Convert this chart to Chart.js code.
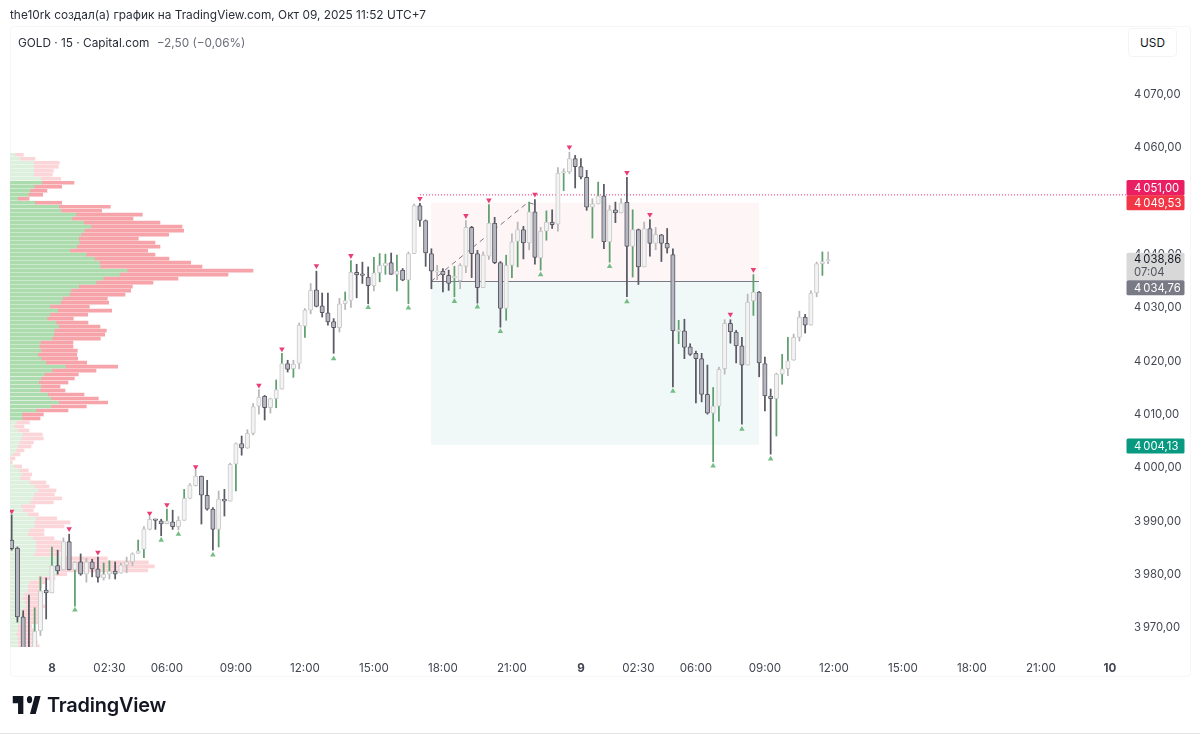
<!DOCTYPE html>
<html lang="ru"><head><meta charset="utf-8"><title>GOLD</title>
<script src="https://cdn.jsdelivr.net/npm/chart.js@4"></script>
<style>
html,body{margin:0;padding:0;background:#fff;width:1200px;height:734px;overflow:hidden}
body{font-family:Inter,"Noto Sans",sans-serif;position:relative}
canvas{position:absolute;left:0;top:0}
.abs{position:absolute;white-space:nowrap}
#credit{left:10px;top:8px;font-size:11.85px;color:#2a2e39;line-height:15px}
#frame{left:10px;top:26px;width:1179px;height:649px;border:1px solid #f6f6f8;border-radius:4px;box-sizing:content-box}
#sym{left:18px;top:36px;font-size:11.8px;color:#2a2e39;line-height:15px}
#sym span{color:#6a6d78;margin-left:4px}
#usd{left:1128px;top:28px;width:47px;height:27px;background:#fff;border:1px solid #f4f4f6;border-radius:4px;font-size:11.8px;line-height:29px;text-align:center;color:#131722}
#logo{left:11px;top:696px;width:30px;height:18px}
#word{left:47px;top:692px;font-size:19.9px;font-weight:600;color:#131722;line-height:26px;letter-spacing:-0.2px}
#foot{left:0;top:733px;width:1200px;height:1px;background:#e4e4e4}
</style></head><body>
<div id="frame" class="abs"></div>
<canvas id="c" width="1200" height="734"></canvas>
<div id="credit" class="abs">the10rk создал(а) график на TradingView.com, Окт 09, 2025 11:52 UTC+7</div>
<div id="sym" class="abs">GOLD · 15 · Capital.com <span>−2,50 (−0,06%)</span></div>
<div id="usd" class="abs">USD</div>
<svg id="logo" class="abs" viewBox="0 6 34 15" preserveAspectRatio="none"><path fill="#131722" d="M14 6H2v6h6v9h6V6zm14 15h-6.5L27 6h6.5L28 21zM21 12a3 3 0 1 0 0-6 3 3 0 0 0 0 6z"/></svg>
<div id="word" class="abs">TradingView</div>
<div id="foot" class="abs"></div>
<script>
const opens=[3986.3,3984.8,3971.9,3964,3964,3969.25,3976.9,3976.4,3981.5,3980.7,
3986.0,3980.7,3982.2,3979.9,3982.2,3980.9,3979.2,3979.9,3980.5,3980.1,
3981.6,3982.2,3983.8,3984.6,3988.3,3990.2,3989.9,3989.35,3989.7,3988.8,
3990.0,3994.1,3996.5,3998.3,3994.7,3992.1,3988.3,3993.95,3993.6,4000.5,
4004.4,4003.5,4006.3,4011.4,4013.3,4011.1,4012.8,4014.6,4019.4,4018.4,
4019.4,4026.4,4029.4,4033.2,4030.2,4028.9,4027.25,4026.1,4030.6,4031.2,
4036.5,4036.05,4035.6,4034.0,4036.4,4037.7,4038.3,4036.1,4036.9,4035.0,
4040.0,4049.0,4046.2,4040.0,4036.5,4036.7,4035.9,4035.45,4034.9,4037.6,
4044.9,4040.0,4033.6,4039.5,4045.7,4038.3,4029.7,4037.8,4042.3,4044.5,
4042.0,4047.8,4039.2,4044.2,4045.9,4045.5,4055.1,4055.3,4057.8,4056.3,
4054.3,4048.7,4049.3,4050.8,4042.2,4048.2,4047.6,4049.65,4041.35,4044.5,
4037.5,4044.7,4041.9,4043.5,4041.9,4039.8,4025.4,4025.5,4022.5,4021.3,
4020.3,4013.6,4010.1,4011.4,4018.4,4026.9,4025.3,4022.7,4019.1,4031.1,
4032.8,4019.4,4013.3,4012.8,4017.4,4018.4,4020.0,4024.3,4028.1,4026.6,
4032.6,4038.1,4038.6];
const closes=[3984.7,3971.9,3963.8,3962.5,3969.2,3976.8,3976.4,3981.5,3980.5,3986.0,
3980.7,3982.1,3979.9,3982.2,3980.9,3979.3,3979.9,3980.5,3979.9,3981.6,
3982.2,3983.7,3984.3,3988.4,3990.2,3990.0,3989.3,3989.9,3988.8,3990.0,
3994.1,3996.6,3998.3,3994.7,3992.1,3988.3,3994.0,3993.6,4000.5,4004.4,
4003.5,4006.3,4011.3,4013.1,4011.1,4012.8,4014.5,4019.4,4018.3,4019.3,
4026.6,4029.4,4033.1,4030.1,4028.9,4027.2,4026.1,4030.6,4031.2,4036.5,
4036.0,4035.9,4034.0,4036.4,4037.8,4038.2,4036.1,4036.7,4035.0,4040.0,
4049.0,4046.2,4040.1,4036.7,4036.7,4036.0,4034.4,4035.6,4037.8,4044.9,
4040.0,4033.6,4039.7,4045.7,4038.3,4029.7,4037.8,4042.2,4044.5,4042.0,
4047.8,4039.3,4044.2,4045.9,4045.4,4055.1,4055.3,4057.8,4056.3,4054.3,
4048.7,4049.3,4050.8,4042.2,4048.2,4047.6,4049.5,4041.35,4044.5,4037.5,
4044.7,4041.9,4043.6,4041.9,4041.0,4025.5,4025.6,4022.4,4021.1,4020.3,
4013.6,4010.1,4011.4,4018.3,4026.9,4025.3,4022.7,4019.1,4030.9,4032.8,
4019.5,4013.3,4012.8,4017.4,4018.4,4019.9,4024.3,4028.1,4026.6,4032.6,
4038.1,4038.5,4038.86];
const highs=[3991.0,3985.0,3973.05,3976.0,3973.6,3979.4,3979.2,3985.0,3984.4,3986.7,
3987.4,3982.2,3983.7,3982.9,3982.7,3983.1,3982.0,3982.4,3982.2,3982.0,
3983.1,3983.9,3986.3,3988.8,3990.7,3990.2,3990.2,3992.1,3991.9,3990.7,
3995.8,3996.9,3999.4,3998.3,3997.5,3992.4,3995.5,3995.8,4000.7,4004.5,
4005.8,4007.0,4011.9,4014.5,4013.4,4012.9,4016.3,4021.3,4020.0,4020.0,
4027.0,4029.7,4034.4,4036.7,4032.6,4032.6,4027.8,4031.6,4032.8,4038.7,
4038.0,4038.4,4037.5,4039.3,4040.0,4039.9,4040.1,4039.7,4037.2,4040.3,
4049.3,4049.4,4046.3,4040.9,4037.8,4037.2,4036.9,4037.6,4038.1,4046.2,
4045.1,4040.6,4040.3,4049.2,4046.8,4038.5,4039.7,4043.7,4045.9,4045.1,
4049.65,4050.1,4044.9,4048.0,4048.2,4056.1,4055.9,4059.0,4058.4,4057.8,
4055.6,4050.3,4053.4,4053.0,4049.0,4049.65,4050.3,4054.3,4048.2,4044.6,
4045.9,4046.35,4044.9,4043.6,4044.7,4040.9,4027.5,4027.7,4023.1,4021.7,
4021.3,4019.1,4014.9,4018.7,4027.6,4027.6,4025.6,4024.3,4032.4,4036.05,
4032.9,4020.6,4014.6,4017.6,4021.1,4024.3,4024.9,4029.2,4028.6,4033.0,
4038.4,4040.3,4040.3];
const lows=[3984.4,3970.9,3962.9,3961,3963,3968.4,3971.5,3976.4,3979.9,3980.7,
3980.7,3973.9,3979.7,3978.4,3979.4,3978.4,3978.8,3979.0,3979.0,3980.1,
3980.2,3981.5,3983.8,3983.0,3988.2,3988.3,3987.1,3989.35,3988.3,3988.2,
3990.0,3994.1,3996.4,3989.3,3991.9,3984.4,3985.0,3990.8,3993.6,3995.5,
4002.2,4003.5,4006.0,4009.9,4008.8,4010.1,4011.1,4014.6,4017.8,4016.8,
4018.4,4024.3,4028.7,4030.0,4028.1,4026.6,4021.3,4025.3,4029.5,4029.9,
4031.7,4034.4,4030.6,4033.0,4034.7,4036.1,4036.1,4033.0,4034.9,4030.6,
4040.0,4045.1,4037.6,4033.4,4035.1,4032.8,4033.1,4031.9,4033.4,4036.4,
4035.5,4030.7,4033.6,4038.9,4038.1,4026.2,4027.5,4035.5,4037.5,4039.0,
4040.7,4038.0,4036.9,4042.5,4044.7,4044.2,4051.8,4055.0,4052.3,4054.0,
4048.1,4042.9,4049.3,4040.9,4038.4,4045.8,4047.6,4031.9,4035.6,4034.2,
4037.5,4039.5,4040.7,4038.5,4040.1,4015.0,4023.1,4020.3,4020.9,4012.0,
4012.2,4009.9,4001.0,4008.6,4017.4,4023.2,4019.5,4008.0,4019.1,4028.4,
4016.9,4010.5,4002.4,4005.8,4015.5,4017.1,4020.0,4023.6,4025.1,4026.6,
4031.9,4035.9,4038.1];

const sellMarkBars=[0,10,15,24,27,32,43,47,53,59,71,79,83,91,97,107,111,125,129];
const sellMarkPrices=[3991.7,3988.4,3984.0,3991.3,3992.9,4000.0,4015.3,4022.1,4037.7,4039.6,4050.3,4047.1,4050.0,4051.1,4059.95,4055.2,4047.3,4028.6,4037.0];
const buyMarkBars=[11,26,29,35,56,62,69,77,81,85,92,104,107,115,122,127,132];
const buyMarkPrices=[3973.2,3986.3,3987.4,3983.5,4020.3,4029.9,4029.8,4031.05,4030.0,4025.4,4036.05,4037.6,4031.0,4014.2,4000.2,4007.1,4001.5];

const profilePrices=[4058.52,4057.77,4057.02,4056.27,4055.52,4054.78,4054.03,4053.28,4052.53,4051.78,
4051.03,4050.28,4049.53,4048.78,4048.03,4047.29,4046.54,4045.79,4045.04,4044.29,
4043.54,4042.79,4042.04,4041.29,4040.54,4039.80,4039.05,4038.30,4037.55,4036.80,
4036.05,4035.30,4034.55,4033.80,4033.05,4032.31,4031.56,4030.81,4030.06,4029.31,
4028.56,4027.81,4027.06,4026.31,4025.56,4024.82,4024.07,4023.32,4022.57,4021.82,
4021.07,4020.32,4019.57,4018.82,4018.07,4017.33,4016.58,4015.83,4015.08,4014.33,
4013.58,4012.83,4012.08,4011.33,4010.58,4009.84,4009.09,4008.34,4007.59,4006.84,
4006.09,4005.34,4004.59,4003.84,4003.09,4002.35,4001.60,4000.85,4000.10,3999.35,
3998.60,3997.85,3997.10,3996.35,3995.60,3994.86,3994.11,3993.36,3992.61,3991.86,
3991.11,3990.36,3989.61,3988.86,3988.11,3987.37,3986.62,3985.87,3985.12,3984.37,
3983.62,3982.87,3982.12,3981.37,3980.62,3979.88,3979.13,3978.38,3977.63,3976.88,
3976.13,3975.38,3974.63,3973.88,3973.13,3972.39,3971.64,3970.89,3970.14,3969.39,
3968.64,3967.89,3967.14,3966.39];
const profileBuy=[17,32,73,73,73,73,95,98,75,62,57,25,77,148,155,200,188,223,245,225,
215,208,210,202,182,230,255,270,273,353,330,282,260,208,185,180,160,153,122,145,
122,113,140,148,135,133,128,93,90,95,85,95,110,168,128,105,95,88,95,92,
115,125,148,125,80,38,38,20,15,25,40,35,30,25,20,10,2,3,15,30,
38,32,60,75,85,75,70,62,35,40,55,80,75,75,60,55,70,80,80,80,
75,160,160,150,150,140,85,60,55,55,45,40,45,50,40,35,35,40,25,25,
20,25,25,25];
const profileTotal=[40,75,148,145,130,127,152,192,155,111,98,57,155,301,275,397,369,450,516,521,
476,385,435,450,413,435,477,542,576,729,654,504,429,367,362,345,292,296,238,305,
233,190,234,270,289,284,271,189,189,202,200,203,230,323,258,205,193,174,150,165,
222,265,293,229,174,100,90,58,42,57,97,100,70,63,42,30,15,7,35,55,
65,60,108,117,138,133,155,130,75,70,85,140,180,162,102,102,132,153,155,160,
150,292,415,433,413,170,135,105,95,90,85,90,90,105,95,95,98,95,65,70,
80,80,82,88];
const valueAreaHigh=4053.6, valueAreaLow=4009.0;

const yTicks=[3970,3980,3990,4000,4010,4020,4030,4040,4050,4060,4070];
const xTickBars=[7,17,27,39,51,63,75,87,99,109,119,131,143,155,167,179,191];
const xTickLabels=['8','02:30','06:00','09:00','12:00','15:00','18:00','21:00','9','02:30','06:00','09:00','12:00','15:00','18:00','21:00','10'];
const dayLabels=['8','9','10'];

const tradeStartBar=72.93, tradeEndBar=129.97;
const entryPrice=4034.76, targetPrice=4049.53, stopPrice=4004.13, levelPrice=4051.00, lastPrice=4038.86;
const levelStartBar=71, levelEndBar=194;
const pathBars=[72.93,89.8,91];
const pathPrices=[4034.76,4049.6,4049.2];

const fmt=v=>{const s=Number(v).toFixed(2).replace('.',',');return s.slice(0,1)+'\u2009'+s.slice(1);};
const bars=opens.map((_,i)=>i);
const isUp=i=>closes[i]>=opens[i];
const shortWick=1.5;
const wickColor=(i,len)=>isUp(i)?(len>shortWick?'#5f9f70':'#b8b8b8'):'#5a5a64';
const font='Inter, "Noto Sans", sans-serif';

const priceTags=[
 {value:levelPrice,text:fmt(levelPrice),bg:'#e91e63',fg:'#fff',top:-15,h:15.5},
 {value:targetPrice,text:fmt(targetPrice),bg:'#f23645',fg:'#fff',top:-7.5,h:15},
 {value:lastPrice,text:fmt(lastPrice),sub:'07:04',bg:'#d8d8d9',fg:'#131722',subFg:'#50535e',top:-7,h:27.5},
 {value:entryPrice,text:fmt(entryPrice),bg:'#787b86',fg:'#fff',top:-1.2,h:15},
 {value:stopPrice,text:fmt(stopPrice),bg:'#089981',fg:'#fff',top:-6.5,h:15}
];
const priceTagPlugin={id:'priceTags',afterDraw(chart){
 const c=chart.ctx,s=chart.scales.y,left=1126.5,w=58;
 c.save();c.textBaseline='middle';c.textAlign='left';c.font='11.3px '+font;
 priceTags.forEach(t=>{
  const y=s.getPixelForValue(t.value)+t.top;
  c.fillStyle=t.bg;c.beginPath();c.roundRect(left,y,w,t.h,1.5);c.fill();
  c.fillStyle=t.fg;c.fillText(t.text,left+7.5,y+(t.sub?7.2:t.h/2+0.8));
  if(t.sub){c.fillStyle=t.subFg;c.fillText(t.sub,left+7.5,y+19.5);}
 });
 c.restore();
}};

new Chart(document.getElementById('c'),{
 type:'bar',
 plugins:[priceTagPlugin],
 data:{datasets:[
  {type:'line',order:100,data:[{x:tradeStartBar,y:targetPrice},{x:tradeEndBar,y:targetPrice}],fill:{value:entryPrice},backgroundColor:'rgba(242,54,69,0.05)',borderWidth:0,pointRadius:0},
  {type:'line',order:99,data:[{x:tradeStartBar,y:entryPrice},{x:tradeEndBar,y:entryPrice}],fill:{value:stopPrice},backgroundColor:'rgba(8,153,129,0.055)',borderWidth:0,pointRadius:0},
  {indexAxis:'y',xAxisID:'xv',yAxisID:'y',order:90,grouped:false,barThickness:3,
   data:profilePrices.map((p,i)=>({y:p,x:[0,profileBuy[i]]})),
   backgroundColor:c=>{const p=profilePrices[c.dataIndex];return (p<=valueAreaHigh&&p>=valueAreaLow)?'#acdbae':'#dcf0dd';}},
  {indexAxis:'y',xAxisID:'xv',yAxisID:'y',order:89,grouped:false,barThickness:3,
   data:profilePrices.map((p,i)=>({y:p,x:[profileBuy[i],profileTotal[i]]})),
   backgroundColor:c=>{const p=profilePrices[c.dataIndex];return (p<=valueAreaHigh&&p>=valueAreaLow)?'#f7a3aa':'#fcd5d9';}},
  {type:'line',order:40,data:[{x:levelStartBar,y:levelPrice},{x:levelEndBar,y:levelPrice}],borderColor:'#e91e63',borderWidth:1,borderDash:[1,2],pointRadius:0},
  {type:'line',order:39,data:[{x:tradeStartBar,y:entryPrice},{x:tradeEndBar,y:entryPrice}],borderColor:'#787b86',borderWidth:1.2,pointRadius:0},
  {type:'line',order:38,data:pathBars.map((b,i)=>({x:b,y:pathPrices[i]})),borderColor:'#787b86',borderWidth:1,borderDash:[5,4],pointRadius:0},
  {order:21,grouped:false,barThickness:1.1,data:bars.map(i=>({x:i,y:[Math.max(opens[i],closes[i]),highs[i]]})),
   backgroundColor:c=>{const i=c.dataIndex;return wickColor(i,highs[i]-Math.max(opens[i],closes[i]));}},
  {order:20,grouped:false,barThickness:1.1,data:bars.map(i=>({x:i,y:[lows[i],Math.min(opens[i],closes[i])]})),
   backgroundColor:c=>{const i=c.dataIndex;return wickColor(i,Math.min(opens[i],closes[i])-lows[i]);}},
  {order:10,grouped:false,barThickness:4.4,borderWidth:1,borderSkipped:false,borderRadius:1,minBarLength:1.5,
   data:bars.map(i=>({x:i,y:[opens[i],closes[i]]})),
   backgroundColor:c=>isUp(c.dataIndex)?'#f3f3f3':'#b6b7c1',
   borderColor:c=>isUp(c.dataIndex)?'#c8c8c8':'#55555f'},
  {type:'line',order:5,showLine:false,data:sellMarkBars.map((b,i)=>({x:b,y:sellMarkPrices[i]})),pointStyle:'triangle',rotation:180,pointRadius:3.2,pointBorderWidth:0,pointBackgroundColor:'#e83e75'},
  {type:'line',order:4,showLine:false,data:buyMarkBars.map((b,i)=>({x:b,y:buyMarkPrices[i]})),pointStyle:'triangle',pointRadius:3.2,pointBorderWidth:0,pointBackgroundColor:'#74bd84'}
 ]},
 options:{
  responsive:false,animation:false,devicePixelRatio:1,
  layout:{padding:{left:10,top:27,right:0,bottom:57}},
  plugins:{legend:{display:false},tooltip:{enabled:false}},
  events:[],
  scales:{
   x:{type:'linear',offset:false,position:'bottom',min:-0.29,max:193.8,
    grid:{display:false,offset:false},border:{display:false},
    afterFit(s){s.height=30;},
    afterBuildTicks(s){s.ticks=xTickBars.map(v=>({value:v}));},
    ticks:{autoSkip:false,maxRotation:0,minRotation:0,padding:7,color:'#434651',
     font:c=>({family:font,size:11.6,weight:c.tick&&dayLabels.includes(xTickLabels[xTickBars.indexOf(c.tick.value)])?'700':'400'}),
     callback:v=>xTickLabels[xTickBars.indexOf(v)]}},
   y:{type:'linear',position:'right',offset:false,min:3966.25,max:4082.47,
    grid:{display:false,offset:false},border:{display:false},
    afterFit(s){s.width=74;},
    afterBuildTicks(s){s.ticks=yTicks.map(v=>({value:v}));},
    ticks:{autoSkip:false,padding:0,labelOffset:1,color:'#434651',font:{family:font,size:11.3},callback:v=>fmt(v)}},
   xv:{type:'linear',display:false,offset:false,min:0,max:3348,grid:{display:false}}
  }
 }
});
</script>
</body></html>
